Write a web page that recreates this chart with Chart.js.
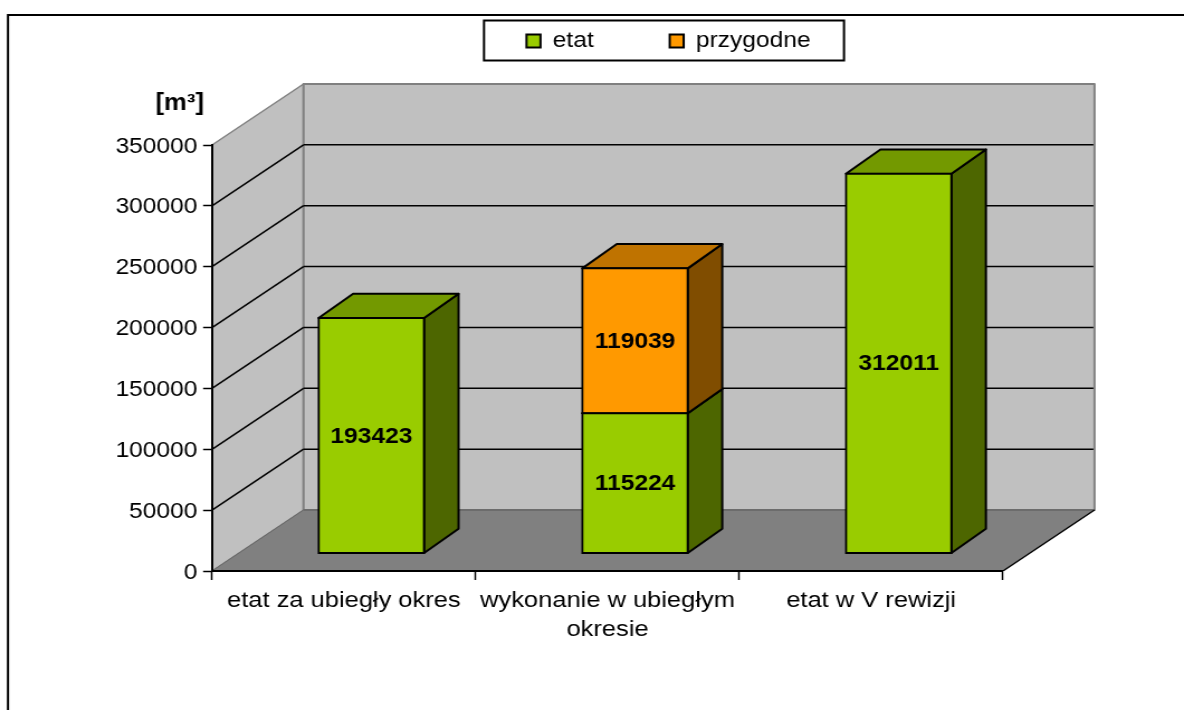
<!DOCTYPE html>
<html>
<head>
<meta charset="utf-8">
<style>html,body{margin:0;padding:0;background:#fff;overflow:hidden}canvas{display:block}</style>
<script src="https://cdn.jsdelivr.net/npm/chart.js@4/dist/chart.umd.js"></script>
</head>
<body>
<canvas id="c"></canvas>
<script>
const categories = ['etat za ubiegły okres', ['wykonanie w ubiegłym', 'okresie'], 'etat w V rewizji'];
const etat = [193423, 115224, 312011];
const przygodne = [null, 119039, null];
const seriesNames = ['etat', 'przygodne'];
const yMax = 350000;
const yStep = 50000;
const unitLabel = '[m³]';

// The reference is horizontally stretched: the canvas is laid out narrower and shown at full width.
const SX = 1.117, PAGE_W = 1184, PAGE_H = 710;
const W = Math.round(PAGE_W / SX);
const X = v => v * W / PAGE_W;
const FONT = '"Liberation Sans", Arial, sans-serif';
const FS = 22, FS_X = 22.8;
const Y_AXIS_W = 130;
const WALL_DX = X(91.5), WALL_DY = 61;     // chart depth
const BAR_DX = X(27.5), BAR_DY = 17.5;     // bar front offset into the depth
const FACE_DX = X(34.5), FACE_DY = 24.3;   // bar depth
const GRAY = '#808080', WALL = '#c0c0c0';
const faces = [
  {side: '#4d6600', top: '#739900'},
  {side: '#804d00', top: '#bf7300'}
];

const cv = document.getElementById('c');
cv.width = W; cv.height = PAGE_H;
cv.style.width = PAGE_W + 'px'; cv.style.height = PAGE_H + 'px';

function poly(ctx, pts, fill, stroke, lw) {
  ctx.beginPath();
  pts.forEach((p, i) => i ? ctx.lineTo(p[0], p[1]) : ctx.moveTo(p[0], p[1]));
  ctx.closePath();
  if (fill) { ctx.fillStyle = fill; ctx.fill(); }
  if (stroke) { ctx.strokeStyle = stroke; ctx.lineWidth = lw || 2; ctx.lineJoin = 'round'; ctx.stroke(); }
}
function line(ctx, x1, y1, x2, y2, color, lw) {
  ctx.beginPath(); ctx.moveTo(x1, y1); ctx.lineTo(x2, y2);
  ctx.strokeStyle = color; ctx.lineWidth = lw; ctx.stroke();
}

const scene = {
  id: 'scene',
  beforeLayout(chart) {
    const lg = chart.legend;
    if (lg && !lg._patched) {
      const fit = lg.fit;
      lg.fit = function () { fit.call(this); this.height = 0; };
      lg._patched = true;
    }
  },
  afterLayout(chart) {
    const lg = chart.legend, pad = lg.options.labels.padding;
    lg.left = X(526.5) - pad;
    lg.right = W;
    lg.top = 41 - FS / 2 - pad;
  },
  beforeDraw(chart) {
    const ctx = chart.ctx, ys = chart.scales.y, a = chart.chartArea;
    const top = ys.getPixelForValue(yMax), bot = ys.getPixelForValue(0);
    const l = a.left, r = a.right;
    ctx.save();
    // outer frame, cut off by the page at right and bottom
    ctx.strokeStyle = '#000'; ctx.lineWidth = 2;
    ctx.strokeRect(X(8), 15, W + 20, PAGE_H + 20);
    // legend box
    ctx.lineWidth = 2;
    ctx.strokeRect(X(484), 20.5, X(360), 40);
    // walls and floor
    poly(ctx, [[l, bot], [l, top], [l + WALL_DX, top - WALL_DY], [l + WALL_DX, bot - WALL_DY]], WALL, GRAY, 1.5);
    poly(ctx, [[l + WALL_DX, top - WALL_DY], [r + WALL_DX, top - WALL_DY], [r + WALL_DX, bot - WALL_DY], [l + WALL_DX, bot - WALL_DY]], WALL, GRAY, 2);
    poly(ctx, [[l, bot], [r, bot], [r + WALL_DX, bot - WALL_DY], [l + WALL_DX, bot - WALL_DY]], GRAY);
    line(ctx, l, bot, l + WALL_DX, bot - WALL_DY, '#666', 1);
    line(ctx, l + WALL_DX, bot - WALL_DY, r + WALL_DX, bot - WALL_DY, '#666', 1.5);
    line(ctx, r, bot, r + WALL_DX, bot - WALL_DY, '#000', 1.5);
    // gridlines on side and back wall
    ys.ticks.forEach(t => {
      if (t.value <= 0 || t.value >= yMax) return;
      const y = ys.getPixelForValue(t.value);
      line(ctx, l, y, l + WALL_DX, y - WALL_DY, '#000', 1.5);
      line(ctx, l + WALL_DX, y - WALL_DY, r + WALL_DX - 1, y - WALL_DY, '#000', 1.5);
    });
    // unit label
    ctx.fillStyle = '#000';
    ctx.font = 'bold 23px ' + FONT;
    ctx.textAlign = 'right'; ctx.textBaseline = 'middle';
    ctx.fillText(unitLabel, X(204), 104);
    ctx.restore();
  },
  beforeDatasetsDraw(chart) {
    const ctx = chart.ctx;
    ctx.save();
    ctx.translate(BAR_DX, -BAR_DY);
    // side and top faces, bottom of the stack first
    chart.data.datasets.forEach((ds, di) => {
      chart.getDatasetMeta(di).data.forEach((b, i) => {
        if (ds.data[i] == null) return;
        const x2 = b.x + b.width / 2, x1 = b.x - b.width / 2;
        poly(ctx, [[x2, b.base], [x2, b.y], [x2 + FACE_DX, b.y - FACE_DY], [x2 + FACE_DX, b.base - FACE_DY]], faces[di].side, '#000', 2);
        poly(ctx, [[x1, b.y], [x2, b.y], [x2 + FACE_DX, b.y - FACE_DY], [x1 + FACE_DX, b.y - FACE_DY]], faces[di].top, '#000', 2);
      });
    });
  },
  afterDatasetsDraw(chart) {
    const ctx = chart.ctx;
    ctx.fillStyle = '#000';
    ctx.font = 'bold ' + FS + 'px ' + FONT;
    ctx.textAlign = 'center'; ctx.textBaseline = 'middle';
    chart.data.datasets.forEach((ds, di) => {
      chart.getDatasetMeta(di).data.forEach((b, i) => {
        if (ds.data[i] == null) return;
        ctx.fillText(String(ds.data[i]), b.x, (b.y + b.base) / 2 + 1);
      });
    });
    ctx.restore();
  }
};

new Chart(cv, {
  type: 'bar',
  data: {
    labels: categories,
    datasets: [
      {label: seriesNames[0], data: etat, backgroundColor: '#99cc00', borderColor: '#000', borderWidth: 2, borderSkipped: false, inflateAmount: 1, clip: false},
      {label: seriesNames[1], data: przygodne, backgroundColor: '#ff9900', borderColor: '#000', borderWidth: 2, borderSkipped: false, inflateAmount: 1, clip: false}
    ]
  },
  plugins: [scene],
  options: {
    responsive: false,
    animation: false,
    devicePixelRatio: 1,
    font: {family: FONT, size: FS},
    layout: {padding: {left: X(212) - Y_AXIS_W, right: W - X(1003), top: 145, bottom: PAGE_H - 571 - 80}},
    datasets: {bar: {barPercentage: 1, categoryPercentage: 0.4}},
    plugins: {
      tooltip: {enabled: false},
      title: {display: false},
      legend: {
        display: true,
        position: 'top',
        align: 'start',
        labels: {
          color: '#000',
          font: {family: FONT, size: FS},
          boxWidth: 12.5,
          boxHeight: 13,
          padding: 68
        }
      }
    },
    scales: {
      x: {
        stacked: true,
        afterFit: s => { s.height = 80; },
        border: {display: true, color: '#000', width: 2},
        grid: {display: true, offset: true, drawOnChartArea: false, drawTicks: true, tickLength: 9, tickColor: '#000', tickWidth: 1.5, color: '#000'},
        ticks: {color: '#000', autoSkip: false, maxRotation: 0, minRotation: 0, padding: 5.5, font: {family: FONT, size: FS_X, lineHeight: 1.3}}
      },
      y: {
        stacked: true,
        min: 0,
        max: yMax,
        afterFit: s => { s.width = Y_AXIS_W; },
        border: {display: true, color: '#000', width: 2},
        grid: {display: true, drawOnChartArea: false, drawTicks: true, tickLength: 8, tickColor: '#000', tickWidth: 1.5, color: '#000'},
        ticks: {color: '#000', stepSize: yStep, padding: 5, labelOffset: 1.5, callback: v => String(v), font: {family: FONT, size: FS}}
      }
    }
  }
});
</script>
</body>
</html>
